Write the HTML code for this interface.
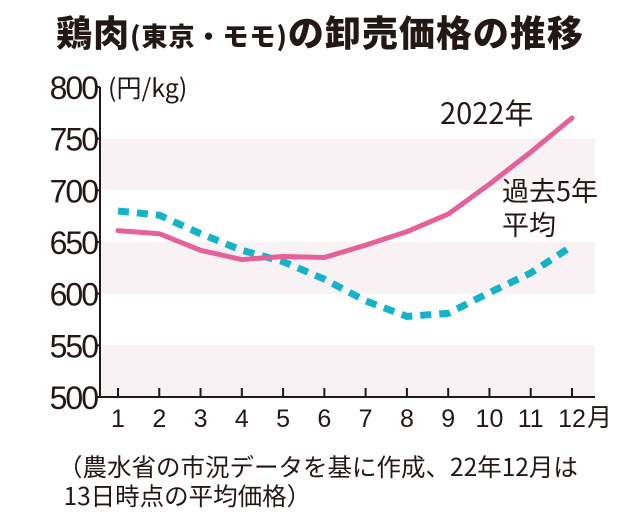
<!DOCTYPE html>
<html><head><meta charset="utf-8">
<style>
body{margin:0;background:#fff;width:640px;height:522px;overflow:hidden;font-family:"Liberation Sans","Noto Sans CJK JP",sans-serif;color:#231815}
#title{position:absolute;left:0;top:6px;width:640px;text-align:center;font-weight:900;font-size:36px;line-height:50px;letter-spacing:1px;font-family:"Noto Sans CJK JP",sans-serif;white-space:nowrap}
#title small{font-size:26px}
#note{position:absolute;left:58px;top:452px;font-size:24.5px;line-height:29px;font-family:"Noto Sans CJK JP",sans-serif;white-space:nowrap}
svg{position:absolute;left:0;top:0}
</style></head><body>
<div id="title">鶏肉<small>(東京・モモ)</small>の卸売価格の推移</div>
<svg id="chart" width="640" height="522"></svg>
<div id="note">（農水省の市況データを基に作成、22年12月は<br>&nbsp;13日時点の平均価格）</div>
<script>
const months=[1,2,3,4,5,6,7,8,9,10,11,12];
const series2022=[661,658,642,633,636,635,647,660,677,706,737,770];
const seriesAvg=[680,676,658,642,631,614,593,578,581,601,620,646];
const yTicks=[500,550,600,650,700,750,800];
const NS="http://www.w3.org/2000/svg";
const svg=document.getElementById('chart');
const X0=100,X1=595,Y0=397,Y1=87;
const x=m=>118+(m-1)*(572-118)/11;
const y=v=>Y0-(v-500)*(Y0-Y1)/300;
function el(t,a){const e=document.createElementNS(NS,t);for(const k in a)e.setAttribute(k,a[k]);svg.appendChild(e);return e;}
for(const b of [[700,750],[600,650],[500,550]]){
 const r=el('rect',{x:X0,y:y(b[1]),width:X1-X0,height:y(b[0])-y(b[1]),fill:'#f8f2f4'});
 
 
}
const ax=el('path',{d:`M${X0} ${Y1}V${Y0}H${X1}`,stroke:'#231815','stroke-width':2,fill:'none'});


for(const v of yTicks){
 const t=el('line',{x1:X0-5,x2:X0,y1:y(v),y2:y(v),stroke:'#231815','stroke-width':2});
 
 
 const l=el('text',{x:X0-3,y:y(v)+12,'text-anchor':'end','font-size':32,fill:'#231815','letter-spacing':'-2'});
 l.textContent=v;
 
 
}
for(const m of months){
 const t=el('line',{x1:x(m),x2:x(m),y1:Y0,y2:Y0-9,stroke:'#231815','stroke-width':2});
 
 
 const l=el('text',{x:x(m),y:Y0+30,'text-anchor':'middle','font-size':25,fill:'#231815'});
 l.textContent=m;
 
 
}
const mo=el('text',{x:587,y:Y0+29,'font-size':25,fill:'#231815','font-family':'Noto Sans CJK JP'});
mo.textContent='月';


const un=el('text',{x:108,y:97,'font-size':25,fill:'#231815','font-family':'Noto Sans CJK JP'});
un.textContent='(円/kg)';


const pAvg=el('polyline',{points:months.map((m,i)=>x(m)+','+y(seriesAvg[i])).join(' '),fill:'none',stroke:'#14b3c8','stroke-width':7,'stroke-dasharray':'11 8'});


const p22=el('polyline',{points:months.map((m,i)=>x(m)+','+y(series2022[i])).join(' '),fill:'none',stroke:'#e4619a','stroke-width':5,'stroke-linejoin':'round','stroke-linecap':'round'});


const l1=el('text',{x:440,y:124,'font-size':29,fill:'#231815','font-family':'Noto Sans CJK JP'});
l1.textContent='2022年';


const l2=el('text',{x:502,y:201,'font-size':27,fill:'#231815','font-family':'Noto Sans CJK JP'});
l2.textContent='過去5年';


const l3=el('text',{x:502,y:235,'font-size':27,fill:'#231815','font-family':'Noto Sans CJK JP'});
l3.textContent='平均';


</script>
</body></html>
